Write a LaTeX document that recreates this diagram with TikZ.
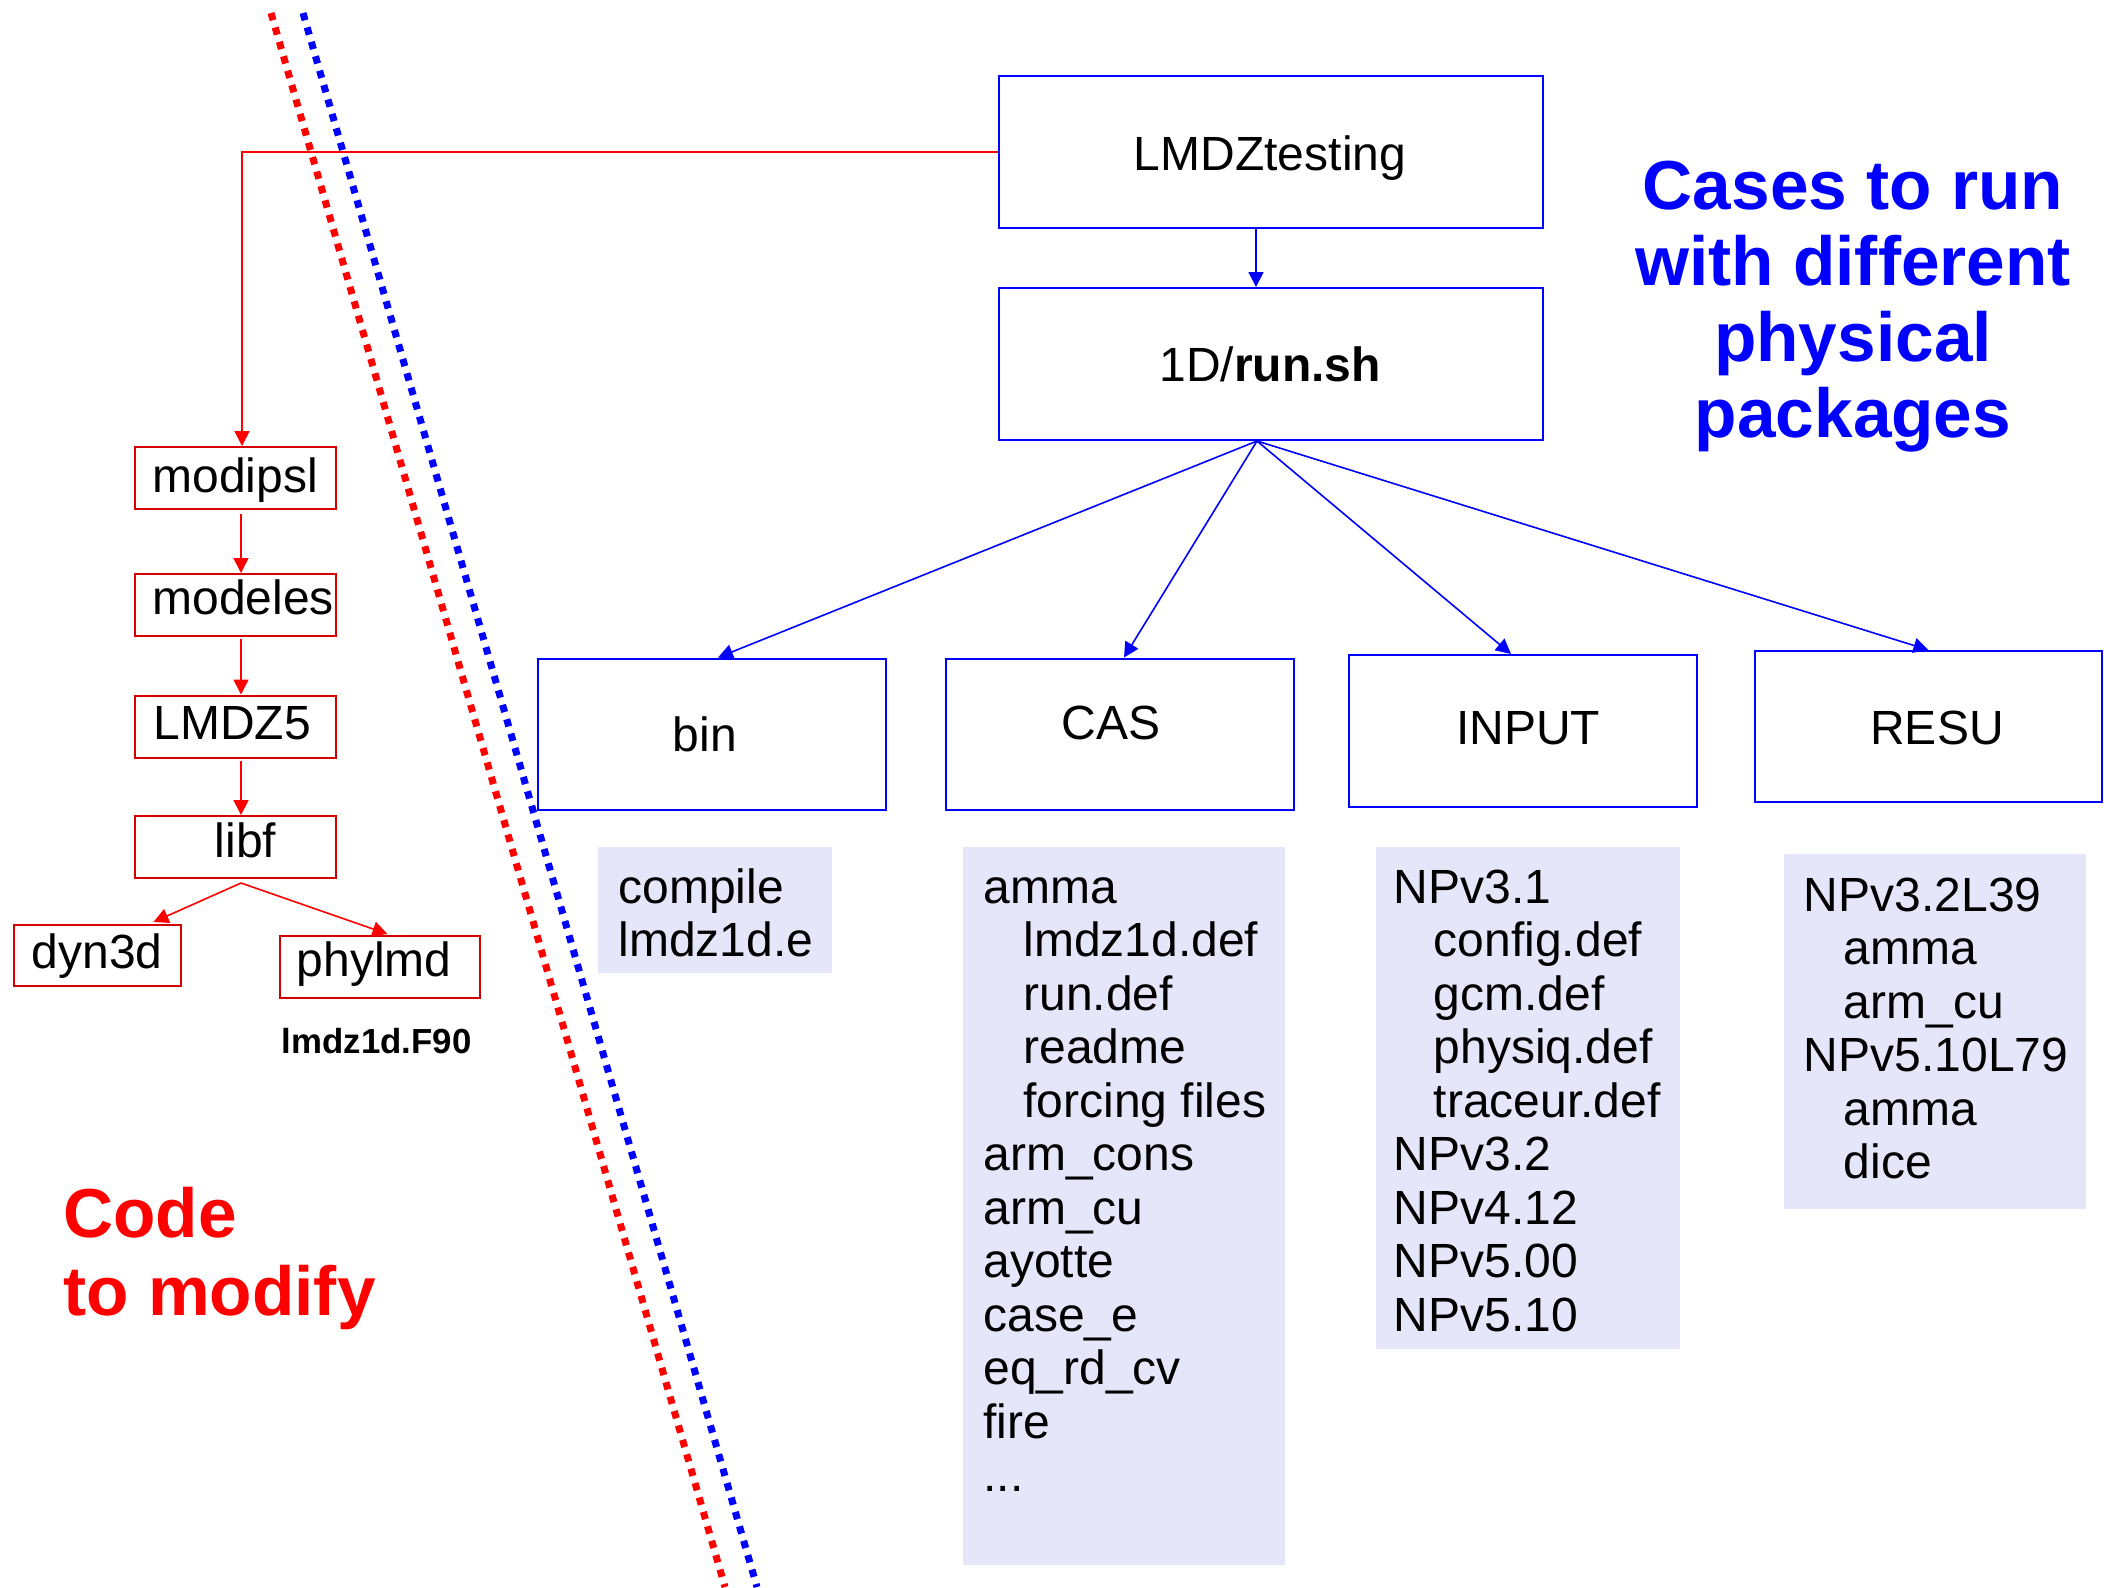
\documentclass[tikz,border=0pt]{standalone}
\usepackage{fontspec}
\setmainfont{Liberation Sans}
\usetikzlibrary{arrows.meta}
\definecolor{lav}{RGB}{230,230,250}
\definecolor{bblue}{RGB}{0,0,255}
\definecolor{rred}{RGB}{255,0,0}
\definecolor{rbox}{RGB}{215,0,0}
\begin{document}
\begin{tikzpicture}[x=0.5pt,y=-0.5pt,
  bbox/.style={draw=bblue,line width=1pt,anchor=north west,inner sep=0pt},
  rbx/.style={draw=rbox,line width=1pt,anchor=north west,inner sep=0pt},
  lbox/.style={fill=lav,anchor=north west,inner sep=0pt},
  lab/.style={inner sep=0pt,anchor=base,font=\fontsize{24}{26.75}\selectfont},
  rlab/.style={inner sep=0pt,anchor=base west,font=\fontsize{24}{26.75}\selectfont},
  lst/.style={inner sep=0pt,anchor=base west,align=left,font=\fontsize{24}{26.75}\selectfont},
  barr/.style={draw=bblue,line width=0.8pt,-{Triangle[length=7.5pt,width=7.5pt]}},
  rarr/.style={draw=rred,line width=0.8pt,-{Triangle[length=7.5pt,width=7.5pt]}},
  dotl/.style={line width=3.5pt,dash pattern=on 3.75pt off 3.75pt}]
\useasboundingbox (0,0) rectangle (2104,1587);
% separating dotted lines
\coordinate (r1) at (271,13);
\coordinate (r2) at (725,1587);
\coordinate (b1) at (303,13);
\coordinate (b2) at (757,1587);
\draw[dotl,draw=rred] (r1) -- (r2);
\draw[dotl,draw=bblue] (b1) -- (b2);
% blue boxes
\node[bbox,minimum width=272pt,minimum height=76pt] (lmdz) at (998,75) {};
\node[bbox,minimum width=272pt,minimum height=76pt] (run) at (998,287) {};
\node[bbox,minimum width=174pt,minimum height=75.75pt] (bin) at (537,657.5) {};
\node[bbox,minimum width=174pt,minimum height=75.75pt] (cas) at (945,657.5) {};
\node[bbox,minimum width=174pt,minimum height=76pt] (input) at (1348,654) {};
\node[bbox,minimum width=173.5pt,minimum height=75.5pt] (resu) at (1754,650) {};
\node[lab] (lmdzt) at (1270,170) {LMDZtesting};
\node[lab] (runt) at (1270,381) {1D/\textbf{run.sh}};
\node[lab] (bint) at (705,751) {bin};
\node[lab] (cast) at (1111,739.5) {CAS};
\node[lab] (inputt) at (1528,744) {INPUT};
\node[lab] (resut) at (1937,744) {RESU};
% blue connectors
\draw[barr] ([xshift=-7.5pt]lmdz.south) -- ([xshift=-7.5pt]run.north);
\coordinate (apex) at ([xshift=-7pt]run.south);
\draw[barr] (apex) -- ([xshift=3pt]bin.north);
\draw[barr] (apex) -- ([xshift=2pt]cas.north);
\draw[barr] (apex) -- ([xshift=-6pt]input.north);
\draw[barr] (apex) -- (resu.north);
% lavender lists (base anchor = baseline of last line)
\node[lbox,minimum width=117pt,minimum height=63pt] (binl) at (598,847) {};
\node[lbox,minimum width=161pt,minimum height=359pt] (casl) at (963,847) {};
\node[lbox,minimum width=152pt,minimum height=251pt] (inl) at (1376,847) {};
\node[lbox,minimum width=151pt,minimum height=177.5pt] (resl) at (1784,854) {};
\node[lst] (bintx) at (618,956.5) {compile\\lmdz1d.e};
\node[lst] (castx) at (983,1491.5) {amma\\
\hspace*{20pt}lmdz1d.def\\
\hspace*{20pt}run.def\\
\hspace*{20pt}readme\\
\hspace*{20pt}forcing files\\
arm\_cons\\
arm\_cu\\
ayotte\\
case\_e\\
eq\_rd\_cv\\
fire\\
...};
\node[lst] (intx) at (1393.5,1331) {NPv3.1\\
\hspace*{20pt}config.def\\
\hspace*{20pt}gcm.def\\
\hspace*{20pt}physiq.def\\
\hspace*{20pt}traceur.def\\
NPv3.2\\
NPv4.12\\
NPv5.00\\
NPv5.10};
\node[lst] (restx) at (1803.5,1178.5) {NPv3.2L39\\
\hspace*{20pt}amma\\
\hspace*{20pt}arm\_cu\\
NPv5.10L79\\
\hspace*{20pt}amma\\
\hspace*{20pt}dice};
% red boxes
\node[rbx,minimum width=100.5pt,minimum height=31pt] (modipsl) at (134,446) {};
\node[rbx,minimum width=100.5pt,minimum height=31pt] (modeles) at (134,573) {};
\node[rbx,minimum width=100.5pt,minimum height=31pt] (lmdz5) at (134,694.5) {};
\node[rbx,minimum width=100.5pt,minimum height=31pt] (libf) at (134,815) {};
\node[rbx,minimum width=83.5pt,minimum height=30.5pt] (dyn) at (13,924) {};
\node[rbx,minimum width=100pt,minimum height=31pt] (phy) at (279,935) {};
\node[rlab] (modipslt) at (152,492.5) {modipsl};
\node[rlab] (modelest) at (152,614) {modeles};
\node[rlab] (lmdz5t) at (153,739) {LMDZ5};
\node[rlab] (libft) at (214.5,857) {libf};
\node[rlab] (dynt) at (31.5,968) {dyn3d};
\node[rlab] (phyt) at (296.5,976) {phylmd};
\node[inner sep=0pt,anchor=base west,font=\fontsize{17.4}{20}\selectfont\bfseries] (f90) at (281.5,1053.5) {lmdz1d.F90};
% red connectors
\draw[rarr] (lmdz.west) -| ([xshift=3.25pt]modipsl.north);
\draw[rarr] ([xshift=2.75pt,yshift=-2pt]modipsl.south) -- ([xshift=2.75pt]modeles.north);
\draw[rarr] ([xshift=2.75pt,yshift=-1pt]modeles.south) -- ([xshift=2.75pt]lmdz5.north);
\draw[rarr] ([xshift=2.75pt,yshift=-1pt]lmdz5.south) -- ([xshift=2.75pt]libf.north);
\coordinate (lapex) at ([xshift=2.75pt,yshift=-2pt]libf.south);
\draw[rarr] (lapex) -- ([xshift=28pt,yshift=1pt]dyn.north);
\draw[rarr] (lapex) -- ([xshift=3.75pt,yshift=0.5pt]phy.north);
% titles
\node[inner sep=0pt,anchor=base,align=center,text=bblue,font=\fontsize{34.7}{38}\selectfont\bfseries] (title) at (1853,437) {Cases to run\\with different\\physical\\packages};
\node[inner sep=0pt,anchor=base west,align=left,text=rred,font=\fontsize{34.7}{39}\selectfont\bfseries] (code) at (63,1315) {Code\\to modify};
\end{tikzpicture}
\end{document}
